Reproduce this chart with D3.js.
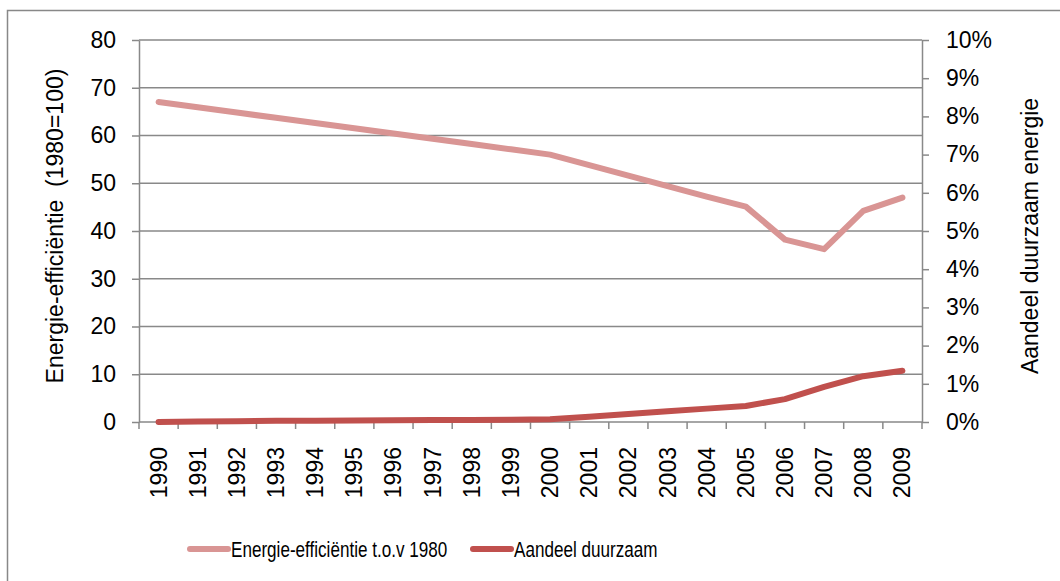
<!DOCTYPE html>
<html>
<head>
<meta charset="utf-8">
<script src="https://cdn.jsdelivr.net/npm/d3@7"></script>
<style>
	body { margin: 0; background: #fff; }
	svg { display: block; font-family: "Liberation Sans", Arial, sans-serif; }
</style>
</head>
<body>
<svg id="chart"></svg>
<script>
// Energie-efficiëntie vs aandeel duurzame energie, 1990-2009
var years = [1990, 1991, 1992, 1993, 1994, 1995, 1996, 1997, 1998, 1999,
	2000, 2001, 2002, 2003, 2004, 2005, 2006, 2007, 2008, 2009];
var efficiency = [67, 65.9, 64.8, 63.7, 62.6, 61.5, 60.4, 59.3, 58.2, 57.1,
	56, 53.8, 51.6, 49.4, 47.2, 45.1, 38.2, 36.2, 44.2, 47];
var renewable = [0, 0.01, 0.02, 0.03, 0.035, 0.04, 0.045, 0.05, 0.055, 0.06,
	0.07, 0.14, 0.21, 0.28, 0.35, 0.42, 0.6, 0.92, 1.2, 1.34];
var leftTicks = [0, 10, 20, 30, 40, 50, 60, 70, 80];
var rightTicks = [0, 1, 2, 3, 4, 5, 6, 7, 8, 9, 10];
var seriesNames = ['Energie-efficiëntie t.o.v 1980', 'Aandeel duurzaam'];
var colors = ['#d99594', '#c0504d'];

var W = 1060, H = 581;
var plot = {left: 139, right: 922, top: 40, bottom: 422};

var svg = d3.select('#chart').attr('width', W).attr('height', H);

// outer frame (right and bottom edges fall outside the picture)
svg.append('rect')
	.attr('x', 7.5).attr('y', 10.5)
	.attr('width', 1200).attr('height', 800)
	.attr('fill', 'none').attr('stroke', '#888').attr('stroke-width', 1.5);

var x = d3.scaleBand().domain(years).range([plot.left, plot.right]);
var yL = d3.scaleLinear().domain([0, 80]).range([plot.bottom, plot.top]);
var yR = d3.scaleLinear().domain([0, 10]).range([plot.bottom, plot.top]);

var axisColor = '#898989';

// gridlines
svg.append('g').selectAll('line')
	.data(leftTicks.filter(function(d) { return d > 0; }))
	.join('line')
		.attr('x1', plot.left).attr('x2', plot.right)
		.attr('y1', function(d) { return yL(d); })
		.attr('y2', function(d) { return yL(d); })
		.attr('stroke', axisColor).attr('stroke-width', 1.5);

function styleAxis(g) {
	g.select('.domain').attr('stroke', axisColor).attr('stroke-width', 1.5);
	g.selectAll('.tick line').attr('stroke', axisColor).attr('stroke-width', 1.5);
	g.selectAll('.tick text').attr('fill', '#000').style('font-size', '23px')
		.style('font-family', '"Liberation Sans", Arial, sans-serif');
}

svg.append('g')
	.attr('transform', 'translate(' + plot.left + ',0)')
	.call(d3.axisLeft(yL).tickValues(leftTicks).tickSizeInner(7).tickSizeOuter(0).tickPadding(16))
	.call(styleAxis);

svg.append('g')
	.attr('transform', 'translate(' + plot.right + ',0)')
	.call(d3.axisRight(yR).tickValues(rightTicks).tickFormat(function(d) { return d + '%'; })
		.tickSizeInner(7).tickSizeOuter(0).tickPadding(17))
	.call(styleAxis);

// category axis: ticks between categories
var gx = svg.append('g').attr('transform', 'translate(0,' + plot.bottom + ')');
gx.append('line').attr('x1', plot.left).attr('x2', plot.right)
	.attr('stroke', axisColor).attr('stroke-width', 1.5);
var edges = years.map(function(d) { return x(d); }).concat([plot.right]);
gx.selectAll('.edge')
	.data(edges)
	.join('line')
		.attr('class', 'edge')
		.attr('x1', function(d) { return d; }).attr('x2', function(d) { return d; })
		.attr('y1', 0).attr('y2', 7)
		.attr('stroke', axisColor).attr('stroke-width', 1.5);
gx.selectAll('.lbl')
	.data(years)
	.join('text')
		.attr('class', 'lbl')
		.attr('transform', function(d) {
			return 'translate(' + (x(d) + x.bandwidth() / 2 + 8) + ',25) rotate(-90)';
		})
		.attr('text-anchor', 'end')
		.style('font-size', '23px')
		.text(function(d) { return d; });

// lines
var lineL = d3.line()
	.x(function(d, i) { return x(years[i]) + x.bandwidth() / 2; })
	.y(function(d) { return yL(d); });
var lineR = d3.line()
	.x(function(d, i) { return x(years[i]) + x.bandwidth() / 2; })
	.y(function(d) { return yR(d); });

svg.append('path').datum(efficiency)
	.attr('d', lineL)
	.attr('fill', 'none').attr('stroke', colors[0]).attr('stroke-width', 6)
	.attr('stroke-linecap', 'round').attr('stroke-linejoin', 'round');
svg.append('path').datum(renewable)
	.attr('d', lineR)
	.attr('fill', 'none').attr('stroke', colors[1]).attr('stroke-width', 6)
	.attr('stroke-linecap', 'round').attr('stroke-linejoin', 'round');

// axis titles
svg.append('text')
	.attr('transform', 'translate(63,226) rotate(-90)')
	.attr('text-anchor', 'middle')
	.style('font-size', '23px')
	.style('white-space', 'pre')
	.text('Energie-efficiëntie  (1980=100)');

svg.append('text')
	.attr('transform', 'translate(1038,236) rotate(-90)')
	.attr('text-anchor', 'middle')
	.style('font-size', '23px')
	.text('Aandeel duurzaam energie');

// legend
var legendX = [190, 473];
var lg = svg.append('g').selectAll('g')
	.data(seriesNames)
	.join('g')
		.attr('transform', function(d, i) { return 'translate(' + legendX[i] + ',549)'; });
lg.append('line')
	.attr('x1', 0).attr('x2', 38)
	.attr('stroke', function(d, i) { return colors[i]; })
	.attr('stroke-width', 6).attr('stroke-linecap', 'round');
lg.append('text')
	.attr('transform', 'translate(41,8) scale(0.76,1)')
	.style('font-size', '22.5px')
	.text(function(d) { return d; });
</script>
</body>
</html>
